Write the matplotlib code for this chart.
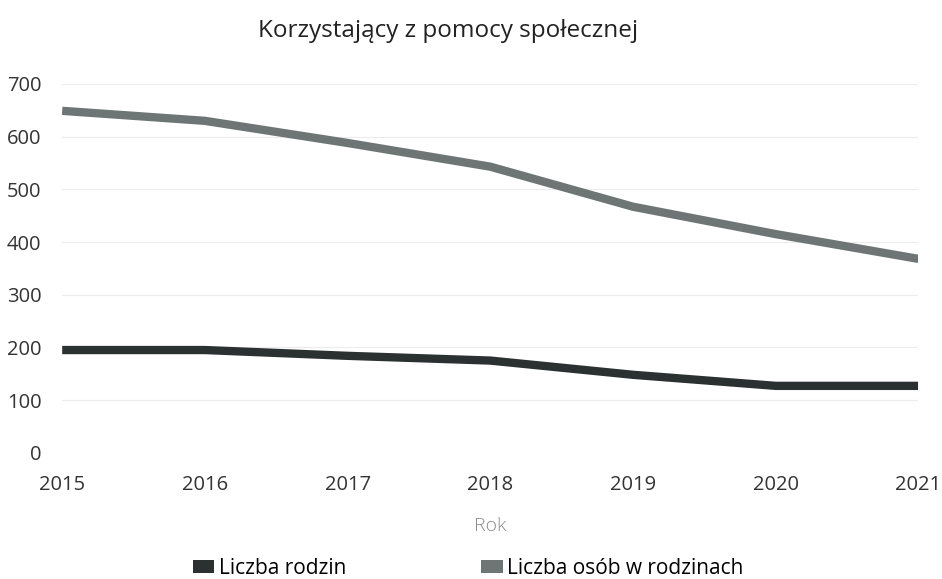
import matplotlib
matplotlib.use("Agg")
import matplotlib.pyplot as plt
from matplotlib.patches import Patch

# data
years = [2015, 2016, 2017, 2018, 2019, 2020, 2021]
rodziny = [195, 195, 184, 175, 148, 127, 127]
osoby = [649, 630, 588, 543, 467, 415, 368]
y_ticks = [0, 100, 200, 300, 400, 500, 600, 700]

c_rodz = '#2b3031'
c_osob = '#6e7575'

plt.rcParams['font.family'] = ['Open Sans', 'DejaVu Sans']

fig = plt.figure(figsize=(9.42, 5.79), dpi=100)
ax = fig.add_axes([0.066, 0.218, 0.909, 0.637])

ax.plot(years, osoby, color=c_osob, linewidth=6, solid_capstyle='butt')
ax.plot(years, rodziny, color=c_rodz, linewidth=6, solid_capstyle='butt')

ax.set_xlim(years[0], years[-1])
ax.set_ylim(0, 700)
ax.set_yticks(y_ticks)
ax.set_xticks(years)
ax.grid(axis='y', color='#ececec', linewidth=0.8)
ax.set_axisbelow(True)
for s in ax.spines.values():
    s.set_visible(False)
ax.tick_params(axis='both', length=0, labelsize=14.5, labelcolor='#333333')
ax.tick_params(axis='y', pad=15)
ax.tick_params(axis='x', pad=16)

ax.set_xlabel('Rok', fontsize=14, color='#8a8a8a', fontweight='light', labelpad=16)
ax.set_title('Korzystający z pomocy społecznej', fontsize=17.5, color='#222222', pad=34, x=0.451)

handles = [Patch(facecolor=c_rodz), Patch(facecolor=c_osob)]
fig.legend(handles, ['Liczba rodzin', 'Liczba osób w rodzinach'], loc='lower center',
           bbox_to_anchor=(0.497, -0.032), ncol=2, frameon=False, fontsize=15,
           handletextpad=0.2, columnspacing=6.5, handlelength=1.05, handleheight=0.55)

fig.savefig('out.png', dpi=100)
